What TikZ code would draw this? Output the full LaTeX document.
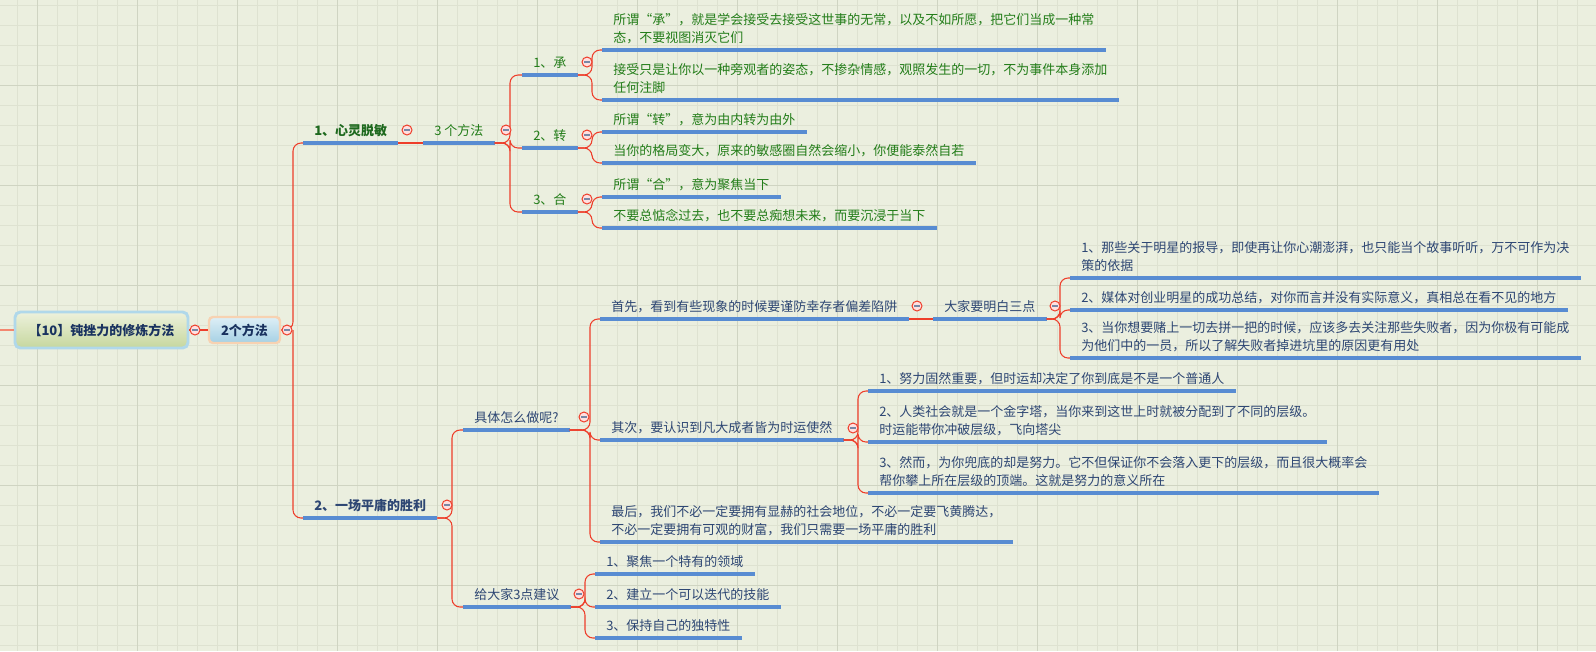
\documentclass[tikz,border=0pt]{standalone}
\usepackage{fontspec}
\setmainfont{Noto Sans CJK SC}
\definecolor{paper}{RGB}{235,239,223}
\definecolor{gridminor}{RGB}{222,226,209}
\definecolor{gridmajor}{RGB}{207,212,194}
\definecolor{linkred}{RGB}{238,62,42}
\definecolor{stubred}{RGB}{243,135,112}
\definecolor{ulblue}{RGB}{88,140,210}
\definecolor{zengreen}{RGB}{35,125,25}
\definecolor{zendark}{RGB}{30,105,30}
\definecolor{inkblue}{RGB}{45,70,115}
\definecolor{rootink}{RGB}{25,50,95}
\definecolor{foldgray}{RGB}{120,135,165}
\tikzset{
  uline/.style={draw=ulblue, line width=2.6pt},
  topic/.style={anchor=south west, inner xsep=8.25pt, inner ysep=0pt, text depth=5.6pt,
    align=left, font=\fontsize{9.75}{13.5}\selectfont,
    append after command={(\tikzlastnode.south west) edge[uline] (\tikzlastnode.south east)}},
  zen/.style={topic, text=zengreen},
  luck/.style={topic, text=inkblue},
  link/.style={draw=linkred, line width=0.8pt, rounded corners=6pt},
  fold/.style={circle, draw=linkred, fill=white!88!red, line width=0.75pt, minimum size=7.5pt, inner sep=0pt,
    path picture={\draw[foldgray, line width=0.8pt] ([xshift=-2.2pt]path picture bounding box.center) -- ([xshift=2.2pt]path picture bounding box.center);}},
  rootbox/.style={rounded corners=4pt, draw={rgb,255:red,176;green,216;blue,234}, line width=2.2pt,
    top color={rgb,255:red,237;green,241;blue,220}, bottom color={rgb,255:red,198;green,215;blue,158},
    minimum width=129.75pt, minimum height=27pt, text=rootink, font=\fontsize{9.75}{12}\selectfont\bfseries},
  midbox/.style={rounded corners=3pt, draw={rgb,255:red,247;green,210;blue,178}, line width=1.8pt,
    top color={rgb,255:red,222;green,239;blue,246}, bottom color={rgb,255:red,165;green,208;blue,228},
    minimum width=53.25pt, minimum height=19.5pt, text=rootink, font=\fontsize{9.75}{12}\selectfont\bfseries}
}
\begin{document}
\begin{tikzpicture}[x=0.75pt, y=-0.75pt]
\useasboundingbox (0,0) rectangle (1596,651);
\fill[paper] (0,0) rectangle (1596,651);
\foreach \gx in {17,37,...,1597} \draw[gridminor, line width=0.75pt] (\gx,0) -- (\gx,651);
\foreach \gy in {5,25,...,651} \draw[gridminor, line width=0.75pt] (0,\gy) -- (1596,\gy);
\foreach \gx in {37,137,...,1597} \draw[gridmajor, line width=0.75pt] (\gx,0) -- (\gx,651);
\foreach \gy in {85,185,...,651} \draw[gridmajor, line width=0.75pt] (0,\gy) -- (1596,\gy);

\node[rootbox] (root) at (101.5,330) {【10】钝挫力的修炼方法};
\node[midbox] (way) at (244.5,330) {2个方法};
\coordinate (stub) at (0,330);

\node[zen, text=zendark, font=\fontsize{9.75}{13.5}\selectfont\bfseries] (n1) at (303,143) {1、心灵脱敏};
\node[zen] (n11) at (423,143) {3 个方法};
\node[zen] (n111) at (522,75) {1、承};
\node[zen] (n1111) at (602,50) {所谓“承”，就是学会接受去接受这世事的无常，以及不如所愿，把它们当成一种常\\态，不要视图消灭它们};
\node[zen] (n1112) at (602,100) {接受只是让你以一种旁观者的姿态，不掺杂情感，观照发生的一切，不为事件本身添加\\任何注脚};
\node[zen] (n112) at (522,148) {2、转};
\node[zen] (n1121) at (602,132) {所谓“转”，意为由内转为由外};
\node[zen] (n1122) at (602,163) {当你的格局变大，原来的敏感圈自然会缩小，你便能泰然自若};
\node[zen] (n113) at (522,212) {3、合};
\node[zen] (n1131) at (602,197) {所谓“合”，意为聚焦当下};
\node[zen] (n1132) at (602,228) {不要总惦念过去，也不要总痴想未来，而要沉浸于当下};

\node[luck, font=\fontsize{9.75}{13.5}\selectfont\bfseries] (n2) at (303,518) {2、一场平庸的胜利};
\node[luck] (n21) at (463,430) {具体怎么做呢?};
\node[luck] (n211) at (600,319) {首先，看到有些现象的时候要谨防幸存者偏差陷阱};
\node[luck] (n2111) at (933,319) {大家要明白三点};
\node[luck] (n21111) at (1070,278) {1、那些关于明星的报导，即使再让你心潮澎湃，也只能当个故事听听，万不可作为决\\策的依据};
\node[luck] (n21112) at (1070,310) {2、媒体对创业明星的成功总结，对你而言并没有实际意义，真相总在看不见的地方};
\node[luck] (n21113) at (1070,358) {3、当你想要赌上一切去拼一把的时候，应该多去关注那些失败者，因为你极有可能成\\为他们中的一员，所以了解失败者掉进坑里的原因更有用处};
\node[luck] (n212) at (600,440) {其次，要认识到凡大成者皆为时运使然};
\node[luck] (n2121) at (868,391) {1、努力固然重要，但时运却决定了你到底是不是一个普通人};
\node[luck] (n2122) at (868,442) {2、人类社会就是一个金字塔，当你来到这世上时就被分配到了不同的层级。\\时运能带你冲破层级，飞向塔尖};
\node[luck] (n2123) at (868,493) {3、然而，为你兜底的却是努力。它不但保证你不会落入更下的层级，而且很大概率会\\帮你攀上所在层级的顶端。这就是努力的意义所在};
\node[luck] (n213) at (600,542) {最后，我们不必一定要拥有显赫的社会地位，不必一定要飞黄腾达，\\不必一定要拥有可观的财富，我们只需要一场平庸的胜利};
\node[luck] (n22) at (463,607) {给大家3点建议};
\node[luck] (n221) at (595,574) {1、聚焦一个特有的领域};
\node[luck] (n222) at (595,607) {2、建立一个可以迭代的技能};
\node[luck] (n223) at (595,638) {3、保持自己的独特性};

\coordinate (j0) at (293,330);
\coordinate (j11) at (510,143);
\coordinate (j111) at (592,75);
\coordinate (j112) at (592,148);
\coordinate (j113) at (592,212);
\coordinate (j2) at (452,518);
\coordinate (j21) at (590,430);
\coordinate (j2111) at (1060,319);
\coordinate (j212) at (858,440);
\coordinate (j22) at (585,607);

\draw[stubred, line width=1.6pt] (stub) -- (root.west);
\draw[link] (root.east) -- (way.west);
\draw[link] (way.east) -- (j0) |- (n1.south west);
\draw[link] (j0) |- (n2.south west);
\draw[link] (n1.south east) -- (n11.south west);
\foreach \c in {n111,n112,n113} \draw[link] (n11.south east) -- (j11) |- (\c.south west);
\foreach \c in {n1111,n1112} \draw[link] (n111.south east) -- (j111) |- (\c.south west);
\foreach \c in {n1121,n1122} \draw[link] (n112.south east) -- (j112) |- (\c.south west);
\foreach \c in {n1131,n1132} \draw[link] (n113.south east) -- (j113) |- (\c.south west);
\foreach \c in {n21,n22} \draw[link] (n2.south east) -- (j2) |- (\c.south west);
\foreach \c in {n211,n212,n213} \draw[link] (n21.south east) -- (j21) |- (\c.south west);
\draw[link] (n211.south east) -- (n2111.south west);
\foreach \c in {n21111,n21112,n21113} \draw[link] (n2111.south east) -- (j2111) |- (\c.south west);
\foreach \c in {n2121,n2122,n2123} \draw[link] (n212.south east) -- (j212) |- (\c.south west);
\foreach \c in {n221,n222,n223} \draw[link] (n22.south east) -- (j22) |- (\c.south west);

\node[fold] (f0) at (195,330) {};
\node[fold] (f00) at (287,330) {};
\node[fold] (f1) at (407,130) {};
\node[fold] (f11) at (506,130) {};
\node[fold] (f111) at (587,62) {};
\node[fold] (f112) at (587,135) {};
\node[fold] (f113) at (587,199) {};
\node[fold] (f2) at (447,505) {};
\node[fold] (f21) at (584,417) {};
\node[fold] (f211) at (917,306) {};
\node[fold] (f2111) at (1055,306) {};
\node[fold] (f212) at (853,428) {};
\node[fold] (f22) at (579,594) {};
\end{tikzpicture}
\end{document}
